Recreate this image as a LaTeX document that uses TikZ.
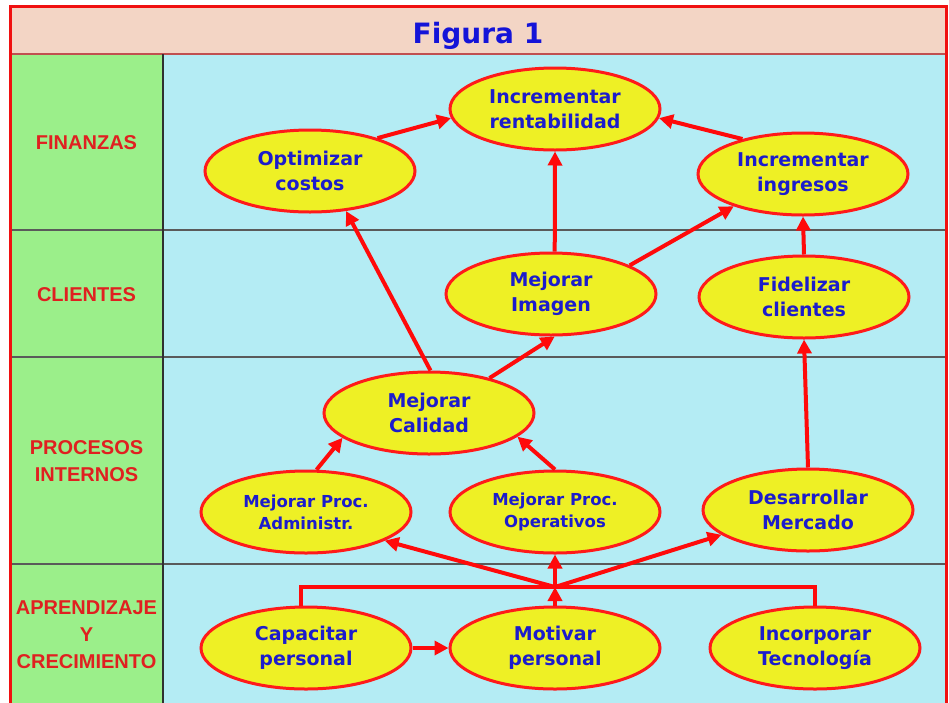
\documentclass[tikz,border=0pt]{standalone}
\usepackage{fontspec}
\newfontfamily\nodefont{DejaVu Sans}
\newfontfamily\labfont{Liberation Sans}
\usetikzlibrary{arrows.meta,shapes.geometric,calc}
\definecolor{peach}{HTML}{F3D5C5}
\definecolor{greenbg}{HTML}{9BEF8A}
\definecolor{cyanbg}{HTML}{B4ECF4}
\definecolor{goalyellow}{HTML}{EEF025}
\definecolor{ellred}{HTML}{FF1A1A}
\definecolor{arrred}{HTML}{FF0A0A}
\definecolor{textblue}{HTML}{1C1CCC}
\definecolor{titleblue}{HTML}{1414D8}
\definecolor{labred}{HTML}{E02020}
\definecolor{framered}{HTML}{F01010}
\definecolor{titleline}{HTML}{C05050}
\definecolor{rowgray}{HTML}{5A5A5A}
\definecolor{divgray}{HTML}{303030}
\begin{document}
\begin{tikzpicture}[x=1pt,y=-1pt,
  goal/.style={ellipse, draw=ellred, line width=3pt, fill=goalyellow,
    minimum width=210pt, minimum height=82pt, inner sep=0pt, align=center,
    text=textblue, font=\nodefont\bfseries\fontsize{19}{25}\selectfont},
  smallgoal/.style={goal, font=\nodefont\bfseries\fontsize{16.5}{22}\selectfont},
  lab/.style={text=labred, font=\labfont\bfseries\fontsize{20}{27}\selectfont, align=center},
  conn/.style={draw=arrred, line width=4pt, -{Triangle[length=14pt,width=14pt]}},
  bracketline/.style={draw=arrred, line width=4pt}
]
\useasboundingbox (0,0) rectangle (949,702);
\clip (0,0) rectangle (949,702);
\fill[white] (0,0) rectangle (949,702);
\fill[cyanbg] (10,54) rectangle (946,712);
\fill[greenbg] (10,54) rectangle (163,712);
\fill[peach] (10,6) rectangle (946,54);
\draw[titleline, line width=2pt] (10,54) -- (946,54);
\draw[rowgray, line width=1.6pt] (10,230) -- (946,230);
\draw[rowgray, line width=1.6pt] (10,357) -- (946,357);
\draw[rowgray, line width=1.6pt] (10,564) -- (946,564);
\draw[divgray, line width=1.6pt] (163,54) -- (163,712);
\draw[framered, line width=3pt] (10,6) rectangle (946,712);

\node[anchor=base, text=titleblue, font=\nodefont\bfseries\fontsize{28}{30}\selectfont] (title) at (478,43) {Figura 1};

\node[lab] (lfin) at (86.5,143) {FINANZAS};
\node[lab] (lcli) at (86.5,295) {CLIENTES};
\node[lab] (lpro) at (86.5,461) {PROCESOS\\INTERNOS};
\node[lab] (lapr) at (86.5,635) {APRENDIZAJE\\Y\\CRECIMIENTO};

\node[goal] (rent) at (555,109) {Incrementar\\rentabilidad};
\node[goal] (opt) at (310,171) {Optimizar\\costos};
\node[goal] (ing) at (803,174) {Incrementar\\ingresos};
\node[goal] (img) at (551,294) {Mejorar\\Imagen};
\node[goal] (fid) at (804,297) {Fidelizar\\clientes};
\node[goal] (cal) at (429,413) {Mejorar\\Calidad};
\node[smallgoal] (adm) at (306,512) {Mejorar Proc.\\Administr.};
\node[smallgoal] (ope) at (555,512) {Mejorar Proc.\\Operativos};
\node[goal] (des) at (808,510) {Desarrollar\\Mercado};
\node[goal] (cap) at (306,648) {Capacitar\\personal};
\node[goal] (mot) at (555,648) {Motivar\\personal};
\node[goal] (inc) at (815,648) {Incorporar\\Tecnología};

\draw[conn] (adm.76) -- (cal.196);
\draw[conn] (ope.north) -- (cal.-15);
\draw[conn] (cal.88) -- (opt.-48);
\draw[conn] (cal.30) -- (img.-85);
\draw[conn] (img.85) -- (rent.south);
\draw[conn] (img.20) -- (ing.205);
\draw[conn] (ing.150) -- (rent.-5);
\draw[conn] (opt.26) -- (rent.185);
\draw[conn] (fid.north) -- (ing.south);
\draw[conn] (des.north) -- (fid.south);
\draw[conn] (cap.east) -- (mot.west);
\coordinate (J) at (555,587);
\draw[bracketline] (cap.97) |- (J) -| (inc.north);
\draw[conn] (mot.north) -- (J);
\draw[conn] (J) -- (adm.-20);
\draw[conn] (J) -- (ope.south);
\draw[conn] (J) -- (des.196);
\end{tikzpicture}
\end{document}
